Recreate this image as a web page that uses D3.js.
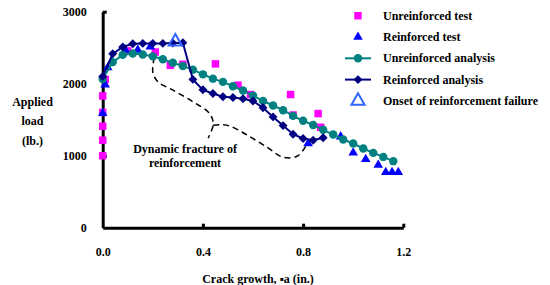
<!DOCTYPE html>
<html>
<head>
<meta charset="utf-8">
<script src="https://cdn.jsdelivr.net/npm/d3@7"></script>
<style>
  body { margin: 0; background: #fff; }
  #chart, #chart text { font-family: 'Liberation Serif', 'Times New Roman', Times, 'DejaVu Serif', serif !important; font-weight: bold; font-size: 12px; }
  #chart text { fill: #000; }
</style>
</head>
<body>
<svg id="chart" width="550" height="285"></svg>
<script>
// crack growth (in.) / applied load (lb.)
const unreinfTest = [
    [0.0, 1000], [0.0, 1215], [0.0, 1410], [0.0, 1600], [0.0, 1830], [0.01, 2060],
    [0.10, 2455], [0.21, 2440], [0.27, 2255], [0.32, 2270], [0.45, 2275],
    [0.54, 1980], [0.59, 1850], [0.75, 1850], [0.76, 1565], [0.86, 1585], [0.87, 1395]
];
const reinfTest = [
    [0.0, 1590], [0.01, 1985], [0.02, 2225], [0.09, 2470], [0.14, 2470], [0.19, 2515],
    [0.82, 1170], [0.95, 1265], [1.00, 1040], [1.05, 950], [1.10, 870],
    [1.13, 770], [1.155, 770], [1.18, 770]
];
const unreinfX = [0, 0.04, 0.08, 0.12, 0.16, 0.20, 0.24, 0.28, 0.32, 0.36, 0.40, 0.44, 0.48, 0.52, 0.56,
    0.60, 0.64, 0.68, 0.72, 0.76, 0.80, 0.84, 0.88, 0.92, 0.96, 1.00, 1.04, 1.08, 1.12, 1.16];
const unreinfLoad = [2065, 2300, 2400, 2420, 2405, 2380, 2340, 2290, 2245, 2195, 2130, 2070, 2025, 1965, 1905,
    1835, 1760, 1697, 1632, 1553, 1485, 1426, 1360, 1294, 1225, 1169, 1100, 1039, 983, 924];
const reinfX = [0, 0.04, 0.08, 0.12, 0.16, 0.20, 0.24, 0.28, 0.32, 0.36, 0.40, 0.44, 0.48, 0.52,
    0.56, 0.60, 0.64, 0.68, 0.72, 0.76, 0.80, 0.84, 0.88];
const reinfLoad = [2100, 2415, 2510, 2555, 2560, 2560, 2560, 2565, 2570, 2060, 1915, 1864, 1820, 1808,
    1790, 1760, 1665, 1539, 1418, 1299, 1239, 1215, 1250];
const onset = [[0.29, 2585]];

// dashed callout for the dynamic fracture
const braceLeft = [[0.206, 2368], [0.200, 2160], [0.222, 2021], [0.281, 1910], [0.361, 1747],
    [0.421, 1608], [0.437, 1521], [0.441, 1424], [0.421, 1243]];
const braceRight = [[0.441, 1424], [0.469, 1431], [0.509, 1410], [0.577, 1285], [0.656, 1118],
    [0.720, 979], [0.776, 993], [0.808, 1118], [0.820, 1215]];

const xTicks = [0, 0.4, 0.8, 1.2];
const yTicks = [0, 1000, 2000, 3000];

const FONT = "'Liberation Serif', 'Times New Roman', Times, 'DejaVu Serif', serif";

const svg = d3.select("#chart");

const x = d3.scaleLinear().domain([0, 1.2]).range([102.7, 403.3]);
const y = d3.scaleLinear().domain([0, 3000]).range([227.7, 11.7]);

// axes
const xAxis = svg.append("g")
    .attr("transform", `translate(0,${y(0)})`)
    .call(d3.axisBottom(x).tickValues(xTicks).tickFormat(d3.format(".1f"))
        .tickSizeInner(-4).tickSizeOuter(0).tickPadding(20));
const yAxis = svg.append("g")
    .attr("transform", `translate(${x(0)},0)`)
    .call(d3.axisLeft(y).tickValues(yTicks).tickFormat(d3.format("d"))
        .tickSizeInner(-4).tickSizeOuter(0).tickPadding(16));

[xAxis, yAxis].forEach(a => {
    a.attr("font-family", FONT).attr("font-size", 12).attr("font-weight", "bold");
    a.select(".domain").attr("stroke", "#000").attr("stroke-width", 3);
    a.selectAll(".tick line").attr("stroke", "#000").attr("stroke-width", 3);
});
xAxis.selectAll(".tick").filter(d => d === 0).select("line").remove();
yAxis.selectAll(".tick").filter(d => d === 0).select("line").remove();

// axis titles
svg.append("text").attr("x", 258).attr("y", 283).attr("text-anchor", "middle")
    .text("Crack growth,  \u25AAa (in.)");
const yTitle = svg.append("text").attr("text-anchor", "middle");
["Applied", "load", "(lb.)"].forEach((t, i) => {
    yTitle.append("tspan").attr("x", 32.5).attr("y", 105.5 + i * 19.5).text(t);
});

// annotation
const dashLine = d3.line().x(d => x(d[0])).y(d => y(d[1])).curve(d3.curveCatmullRom.alpha(0.5));
[braceLeft, braceRight].forEach(b => {
    svg.append("path").attr("d", dashLine(b))
        .attr("fill", "none").attr("stroke", "#000").attr("stroke-width", 1.5)
        .attr("stroke-dasharray", "6,4");
});
const note = svg.append("text").attr("text-anchor", "middle");
note.append("tspan").attr("x", 185).attr("y", 153).text("Dynamic fracture of");
note.append("tspan").attr("x", 185).attr("y", 167).text("reinforcement");

const line = d3.line().x(d => x(d[0])).y(d => y(d[1]));
const sym = (type, size) => d3.symbol().type(type).size(size)();

// unreinforced test
svg.append("g").selectAll("path").data(unreinfTest).enter().append("path")
    .attr("transform", d => `translate(${x(d[0])},${y(d[1])})`)
    .attr("d", sym(d3.symbolSquare, 56)).attr("fill", "#ff00ff");

// reinforced test
svg.append("g").selectAll("path").data(reinfTest).enter().append("path")
    .attr("transform", d => `translate(${x(d[0])},${y(d[1])})`)
    .attr("d", sym(d3.symbolTriangle, 40)).attr("fill", "#0000ff");

// unreinforced analysis
const unreinf = unreinfX.map((v, i) => [v, unreinfLoad[i]]);
svg.append("path").attr("d", line(unreinf))
    .attr("fill", "none").attr("stroke", "#008080").attr("stroke-width", 2);
svg.append("g").selectAll("circle").data(unreinf).enter().append("circle")
    .attr("cx", d => x(d[0])).attr("cy", d => y(d[1])).attr("r", 4.2).attr("fill", "#008080");

// reinforced analysis
const reinf = reinfX.map((v, i) => [v, reinfLoad[i]]);
svg.append("path").attr("d", line(reinf))
    .attr("fill", "none").attr("stroke", "#000080").attr("stroke-width", 2);
svg.append("g").selectAll("path").data(reinf).enter().append("path")
    .attr("transform", d => `translate(${x(d[0])},${y(d[1])}) rotate(45)`)
    .attr("d", sym(d3.symbolSquare, 40)).attr("fill", "#000080");

// onset of reinforcement failure
svg.append("g").selectAll("path").data(onset).enter().append("path")
    .attr("transform", d => `translate(${x(d[0])},${y(d[1])})`)
    .attr("d", sym(d3.symbolTriangle, 75)).attr("fill", "none")
    .attr("stroke", "#3366ff").attr("stroke-width", 2);

// legend
const legendItems = ["Unreinforced test", "Reinforced test", "Unreinforced analysis",
    "Reinforced analysis", "Onset of reinforcement failure"];
const legend = svg.append("g");
legendItems.forEach((name, i) => {
    const ly = 15.7 + i * 21.3;
    const g = legend.append("g").attr("transform", `translate(358,${ly})`);
    if (i === 0) g.append("path").attr("d", sym(d3.symbolSquare, 56)).attr("fill", "#ff00ff");
    if (i === 1) g.append("path").attr("d", sym(d3.symbolTriangle, 40)).attr("fill", "#0000ff");
    if (i === 2) {
        g.append("line").attr("x1", -13).attr("x2", 13).attr("stroke", "#008080").attr("stroke-width", 2);
        g.append("circle").attr("r", 4.2).attr("fill", "#008080");
    }
    if (i === 3) {
        g.append("line").attr("x1", -13).attr("x2", 13).attr("stroke", "#000080").attr("stroke-width", 2);
        g.append("path").attr("transform", "rotate(45)").attr("d", sym(d3.symbolSquare, 40)).attr("fill", "#000080");
    }
    if (i === 4) g.append("path").attr("d", sym(d3.symbolTriangle, 75)).attr("fill", "none")
        .attr("stroke", "#3366ff").attr("stroke-width", 2);
    g.append("text").attr("x", 25).attr("y", 4).text(name);
});
</script>
</body>
</html>
